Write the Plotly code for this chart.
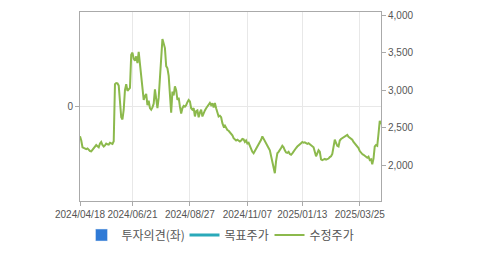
import pandas as pd
import plotly.graph_objects as go

# KRX holidays in the period (market closed)
holidays = ["2024-05-01", "2024-05-06", "2024-05-15", "2024-06-06", "2024-08-15",
            "2024-09-16", "2024-09-17", "2024-09-18", "2024-10-01", "2024-10-03",
            "2024-10-09", "2024-12-25", "2024-12-31", "2025-01-01", "2025-01-27",
            "2025-01-28", "2025-01-29", "2025-01-30", "2025-03-03"]
bdays = pd.bdate_range("2024-04-18", "2025-04-17")
dates = [d.strftime("%Y/%m/%d") for d in bdays if d.strftime("%Y-%m-%d") not in holidays]

# 수정주가 (adjusted close)
price = [
    2385, 2330, 2240, 2230, 2220, 2215, 2225, 2205, 2190, 2185,
    2205, 2215, 2240, 2270, 2255, 2240, 2290, 2310, 2270, 2250,
    2265, 2290, 2280, 2275, 2300, 2295, 2285, 2320, 3080, 3095,
    3090, 3060, 2780, 2640, 2610, 2740, 3000, 3080, 2990, 3010,
    3030, 3470, 3500, 3420, 3390, 3450, 3360, 3510, 3330, 3200,
    3040, 2870, 2920, 2950, 2800, 2860, 2760, 2740, 2770, 2820,
    3010, 2850, 2760, 2900, 3140, 3300, 3680, 3620, 3560, 3320,
    3290, 3190, 2950, 2700, 2980, 2930, 3050, 3000, 2870, 2900,
    2780, 2690, 2760, 2790, 2780, 2800, 2840, 2870, 2850, 2760,
    2740, 2760, 2650, 2720, 2730, 2640, 2700, 2740, 2650, 2700,
    2730, 2760, 2790, 2810, 2830, 2800, 2825, 2770, 2830, 2760,
    2700, 2650, 2660, 2640, 2560, 2515, 2530, 2490, 2470, 2460,
    2440, 2420, 2400, 2360, 2340, 2330, 2340, 2325, 2316, 2330,
    2350, 2345, 2310, 2330, 2290, 2300, 2250, 2220, 2180, 2160,
    2190, 2220, 2240, 2260, 2290, 2340, 2385, 2350, 2320, 2290,
    2260, 2230, 2200, 2120, 2070, 1990, 1895, 2060, 2160, 2180,
    2200, 2230, 2260, 2240, 2200, 2170, 2165, 2180, 2150, 2140,
    2160, 2190, 2200, 2230, 2250, 2270, 2280, 2295, 2310, 2300,
    2305, 2290, 2285, 2295, 2280, 2270, 2260, 2240, 2180, 2120,
    2160, 2200, 2180, 2080, 2070, 2080, 2085, 2075, 2080, 2090,
    2110, 2120, 2150, 2250, 2340, 2300, 2260, 2250, 2330, 2350,
    2360, 2375, 2390, 2400, 2405, 2380, 2370, 2350, 2340, 2310,
    2290, 2270, 2255, 2230, 2190, 2160, 2150, 2140, 2130, 2110,
    2100, 2115, 2070, 2080, 2015, 2090, 2250, 2270, 2260, 2420,
    2590, 2545,
]
n = min(len(dates), len(price))
dates = dates[:n]
price = price[:n]

# 투자의견(좌) and 목표주가: no values in the period (placeholders keep the legend entries)
opinion_dates = [dates[0]]
opinion_vals = [None]
target_dates = [dates[0]]
target_vals = [None]

tick_labels = ["2024/04/18", "2024/06/21", "2024/08/27", "2024/11/07", "2025/01/13", "2025/03/25"]
right_ticks = [2000, 2500, 3000, 3500, 4000]

FONT = "Liberation Sans, Arial, Noto Sans CJK KR, sans-serif"

fig = go.Figure()
fig.add_trace(go.Bar(x=opinion_dates, y=opinion_vals, name="투자의견(좌)",
                     marker_color="#2f7ad6", yaxis="y", showlegend=True, legendwidth=58))
fig.add_trace(go.Scatter(x=target_dates, y=target_vals, name="목표주가", mode="lines",
                         line=dict(color="#2aa9b9", width=3), yaxis="y2", showlegend=True,
                         legendwidth=40))
fig.add_trace(go.Scatter(x=dates, y=price, name="수정주가", mode="lines",
                         line=dict(color="#8cb94c", width=2), yaxis="y2", legendwidth=44))

axis_line = "#aaaaaa"
grid = "#e8e8e8"
fig.update_layout(
    width=479, height=255,
    margin=dict(l=80, r=98, t=12, b=54, autoexpand=False),
    paper_bgcolor="white", plot_bgcolor="white",
    font=dict(family=FONT, size=10, color="#555555"),
    xaxis=dict(type="category", categoryorder="array", categoryarray=dates,
               range=[0, n - 1], tickmode="array", tickvals=tick_labels, ticktext=tick_labels,
               showgrid=True, gridcolor=grid, gridwidth=1,
               showline=True, linecolor=axis_line, linewidth=1, mirror=True,
               ticks="outside", ticklen=4, tickcolor=axis_line, tickangle=0,
               tickfont=dict(size=10, color="#555555")),
    yaxis=dict(range=[-1, 1], tickvals=[0], ticktext=["0"], showgrid=True, gridcolor=grid,
               zeroline=False, showline=True, linecolor=axis_line, linewidth=1,
               ticks="outside", ticklen=4, tickcolor=axis_line,
               tickfont=dict(size=10, color="#555555")),
    yaxis2=dict(overlaying="y", side="right", range=[1525, 4040], tickvals=right_ticks,
                tickformat=",", showgrid=False, zeroline=False, showline=True,
                linecolor=axis_line, linewidth=1, ticks="outside", ticklen=4,
                tickcolor=axis_line, tickfont=dict(size=10, color="#555555")),
    legend=dict(orientation="h", x=0.005, xanchor="left", y=-0.18, yanchor="middle",
                font=dict(family="Noto Sans CJK KR, sans-serif", size=12, color="#555555"),
                itemwidth=30, entrywidthmode="pixels",
                traceorder="normal", bgcolor="rgba(0,0,0,0)"),
    showlegend=True,
)

fig.write_html("out.html")
